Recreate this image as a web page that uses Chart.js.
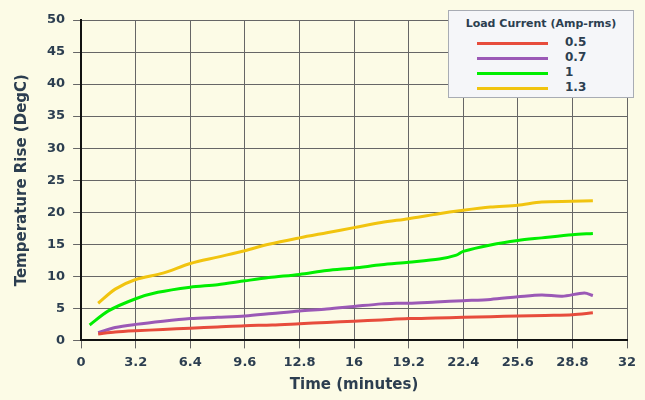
<!DOCTYPE html>
<html><head><meta charset="utf-8">
<script src="https://cdn.jsdelivr.net/npm/chart.js@4"></script>
<style>
body{margin:0;background:#fcfbe6;}
#wrap{position:relative;width:645px;height:400px;}
#leg{position:absolute;left:448px;top:10px;width:186px;height:88px;background:#f5f6f9;border:1px solid #a8acb4;box-sizing:border-box;font-family:"DejaVu Sans",sans-serif;color:#2c3e50;font-weight:bold;}
#leg .t{font-size:11px;text-align:center;margin-top:6px;}
#leg .r{font-size:12px;height:15px;line-height:15px;position:relative;}
#leg .r span{position:absolute;left:28px;top:7px;width:71px;height:3px;}
#leg .r b{position:absolute;left:116px;}
</style></head><body>
<div id="wrap"><canvas id="c" width="645" height="400"></canvas>
<div id="leg"><div class="t">Load Current (Amp-rms)</div><div id="rows" style="margin-top:5px"></div></div></div>
<script>
const seriesLabels=["0.5","0.7","1","1.3"];
const colors=["#e74c3c","#9b59b6","#00ee00","#f1c40f"];
const red=[[1,1.0],[2,1.3],[3.2,1.5],[4.8,1.7],[6.4,1.9],[8,2.1],[9.6,2.3],[11.2,2.4],[12.8,2.6],[14.4,2.8],[16,3.0],[17.6,3.2],[19.2,3.4],[20.8,3.5],[22.4,3.6],[24,3.7],[25.6,3.8],[27.2,3.9],[28.8,4.0],[30,4.3]];
const purple=[[1,1.2],[2,2.0],[3.2,2.5],[4.8,3.0],[6.4,3.4],[8,3.6],[9.6,3.8],[11.2,4.2],[12.8,4.6],[14.4,4.9],[16,5.3],[17.6,5.7],[18.5,5.8],[19.2,5.8],[20.8,6.0],[22.4,6.2],[24,6.4],[25.6,6.8],[27,7.1],[28.2,6.9],[29.5,7.4],[30,7.0]];
const green=[[0.5,2.4],[1.6,4.6],[3.2,6.5],[4.5,7.5],[6.4,8.3],[8,8.7],[9.6,9.3],[11,9.8],[12.8,10.3],[14.4,10.9],[16,11.3],[17.6,11.8],[19.2,12.2],[21,12.7],[22,13.3],[22.4,13.9],[24,14.9],[25.6,15.6],[27,16.0],[28.8,16.5],[30,16.7]];
const yellow=[[1,5.8],[2,8.0],[3.2,9.5],[4.8,10.5],[6.4,12.0],[8,13.0],[9.6,14.0],[11,15.0],[12.8,16.0],[14.4,16.8],[16,17.6],[17.6,18.4],[19.2,19.0],[20.8,19.7],[22.4,20.3],[24,20.8],[25.6,21.1],[27,21.6],[28.8,21.7],[30,21.8]];
const xTicks=[0,3.2,6.4,9.6,12.8,16,19.2,22.4,25.6,28.8,32];
const all=[red,purple,green,yellow];
document.getElementById('rows').innerHTML=seriesLabels.map((l,i)=>`<div class="r"><span style="background:${colors[i]}"></span><b>${l}</b></div>`).join('');
const bg={id:'bg',beforeDraw(ch){const {ctx}=ch;ctx.save();ctx.fillStyle='#fcfbe6';ctx.fillRect(0,0,ch.width,ch.height);ctx.restore();}};
new Chart(document.getElementById('c'),{type:'line',
data:{datasets:all.map((d,i)=>({label:seriesLabels[i],data:d.map(p=>({x:p[0],y:p[1]})),borderColor:colors[i],borderWidth:3,pointRadius:0,tension:0.3,fill:false}))},
options:{responsive:false,animation:false,layout:{padding:{left:9,right:18,top:20,bottom:6}},
plugins:{legend:{display:false},tooltip:{enabled:false}},
scales:{x:{type:'linear',min:0,max:32,afterBuildTicks(ax){ax.ticks=xTicks.map(v=>({value:v}));},
ticks:{color:'#2c3e50',font:{family:'DejaVu Sans',size:13,weight:'bold'},maxRotation:0,padding:6,callback:v=>String(v)},
grid:{color:'#666',lineWidth:1,tickLength:8},border:{color:'#111',width:2},
title:{display:true,text:'Time (minutes)',color:'#2c3e50',font:{family:'DejaVu Sans',size:15,weight:'bold'},padding:{top:0,bottom:0}}},
y:{min:0,max:50,ticks:{stepSize:5,color:'#2c3e50',font:{family:'DejaVu Sans',size:13,weight:'bold'},padding:8},
grid:{color:'#666',lineWidth:1,tickLength:8},border:{color:'#111',width:2},
title:{display:true,text:'Temperature Rise (DegC)',color:'#2c3e50',font:{family:'DejaVu Sans',size:15,weight:'bold'},padding:{bottom:8}}}}},
plugins:[bg]});
</script></body></html>
